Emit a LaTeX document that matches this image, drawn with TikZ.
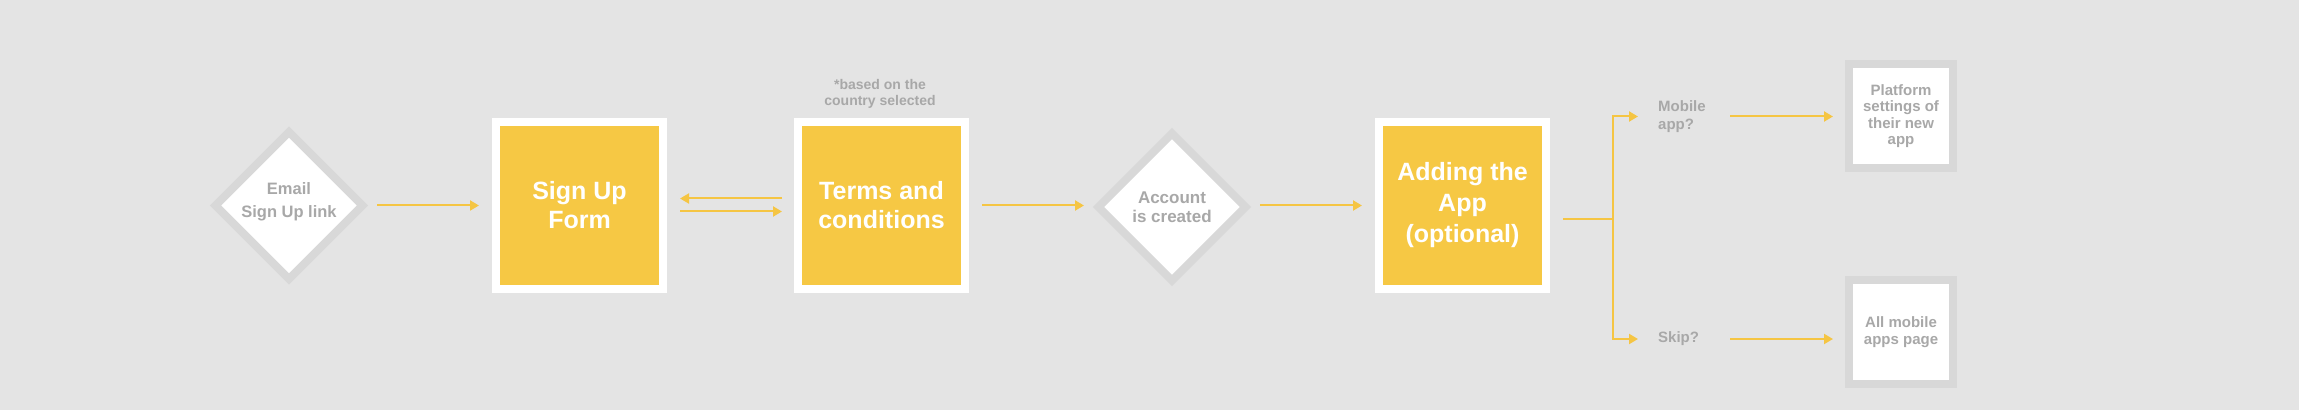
\documentclass[tikz,border=0pt]{standalone}
\usepackage{fontspec}
\setmainfont{Liberation Sans}
\usepackage{xcolor}
\usepackage{tikz}
\usetikzlibrary{shapes.geometric}
\usetikzlibrary{arrows.meta}

\definecolor{bggray}{HTML}{E4E4E4}
\definecolor{rimgray}{HTML}{D8D8D8}
\definecolor{labelgray}{HTML}{A8A8A8}
\definecolor{stepyellow}{HTML}{F6C844}
\definecolor{flowyellow}{HTML}{F5C543}

\tikzset{
        decision/.style={diamond, aspect=1, fill=white, draw=rimgray, line width=8pt, minimum size=147pt, inner sep=0pt, outer sep=0pt, text=labelgray, align=center, font=\bfseries\fontsize{17}{19}\selectfont},
        stepbox/.style={rectangle, fill=stepyellow, draw=white, line width=8pt, minimum size=167pt, inner sep=0pt, outer sep=0pt, text=white, align=center, font=\bfseries\fontsize{25}{29}\selectfont},
        pagebox/.style={rectangle, fill=white, draw=rimgray, line width=8pt, minimum size=104pt, inner sep=0pt, outer sep=0pt, text=labelgray, align=center, font=\bfseries\fontsize{15}{16.5}\selectfont},
        greytext/.style={text=labelgray, align=center, inner sep=0pt, font=\bfseries\fontsize{16.5}{23}\selectfont},
        choice/.style={text=labelgray, align=left, anchor=west, inner sep=0pt, font=\bfseries\fontsize{15}{18}\selectfont},
        flow/.style={draw=flowyellow, line width=2pt, -{Triangle[length=9pt,width=10pt]}},
        branch/.style={draw=flowyellow, line width=2pt}
}

\begin{document}
\begin{tikzpicture}[x=1pt, y=1pt]
        \fill[bggray] (0,0) rectangle (2299,410);
        \useasboundingbox (0,0) rectangle (2299,410);

        \node[decision] (email) at (289,204.5) {};
        \node[greytext] (emailtext) at (289,208) {Email\\Sign Up link};
        \node[stepbox] (signup) at (579.5,204.5) {Sign Up\\Form};
        \node[stepbox] (terms) at (881.5,204.5) {Terms and\\conditions};
        \node[greytext, font=\bfseries\fontsize{14}{16}\selectfont] (note) at (880,316) {*based on the\\country selected};
        \node[decision] (account) at (1172,203) {Account\\is created};
        \node[stepbox, font=\bfseries\fontsize{25}{31}\selectfont] (adding) at (1462.5,204.5) {Adding the\\App\\(optional)};
        \node[choice] (mobile) at (1658,293.5) {Mobile\\app?};
        \node[choice] (skip) at (1658,71) {Skip?};
        \node[pagebox] (platform) at (1901,294) {Platform\\settings of\\their new\\app};
        \node[pagebox] (allapps) at (1901,78) {All mobile\\apps page};
        \coordinate (split) at ([shift={(67pt,-13.5pt)}]adding.east);

        \draw[flow, shorten <=14.5pt, shorten >=17pt] (email.east) -- (signup.west);
        \draw[flow, shorten <=16pt, shorten >=17pt] ([yshift=7pt]terms.west) -- ([yshift=7pt]signup.east);
        \draw[flow, shorten <=17pt, shorten >=16pt] ([yshift=-6pt]signup.east) -- ([yshift=-6pt]terms.west);
        \draw[flow, shorten <=17pt, shorten >=14.5pt] (terms.east) -- (terms.east -| account.west);
        \draw[flow, shorten <=14.5pt, shorten >=17pt] (account.east |- adding.west) -- (adding.west);
        \draw[branch, shorten <=17pt] ([yshift=-13.5pt]adding.east) -- (split);
        \draw[flow, shorten >=20pt] (split) |- (mobile.west);
        \draw[flow, shorten >=20pt] (split) |- (skip.west);
        \draw[flow, shorten >=16pt] ([xshift=72pt]mobile.west) -- (mobile.west -| platform.west);
        \draw[flow, shorten >=16pt] ([xshift=72pt]skip.west) -- (skip.west -| allapps.west);
\end{tikzpicture}
\end{document}
